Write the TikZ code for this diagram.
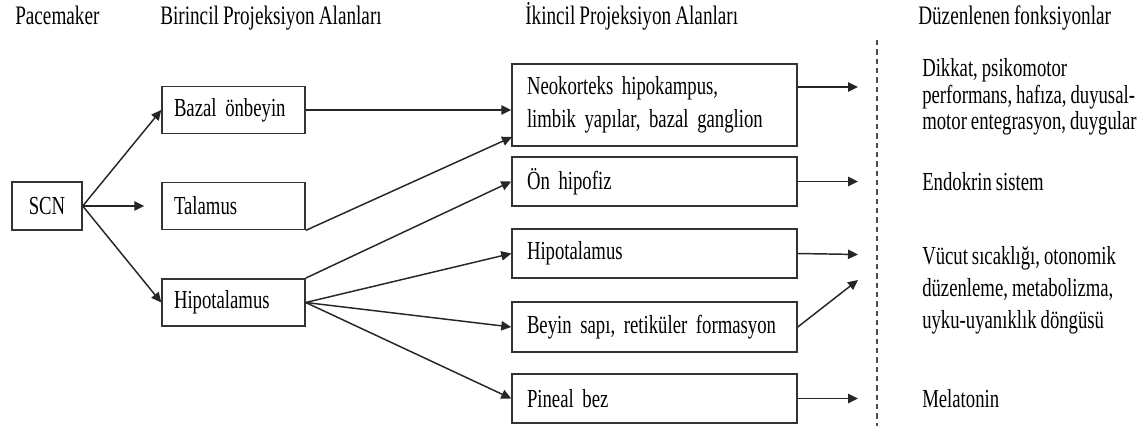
\documentclass[tikz,border=0pt]{standalone}
\usepackage{fontspec}
\setmainfont[FakeStretch=0.72,WordSpace=0.85]{Liberation Serif}
\usetikzlibrary{arrows.meta,calc}
\newcommand{\tightsp}{\spaceskip=0.2em\relax\xspaceskip=0.3em\relax}
\begin{document}
\begin{tikzpicture}[x=0.75pt,y=-0.75pt,
  box/.style={draw=black!80, line width=1.1pt, rectangle, inner ysep=0pt, font=\fontsize{19.5}{24.75}\selectfont\tightsp, align=left},
  lbox/.style={box, inner xsep=9pt, text width=89.25pt, minimum height=35.5pt},
  rbox/.style={box, inner xsep=11.25pt, text width=191.25pt, minimum height=36.75pt},
  arr/.style={draw=black!85, line width=1.1pt, -{Triangle[length=7.5pt,width=7pt]}},
  hdr/.style={anchor=base west, inner sep=0pt, font=\fontsize{20}{24}\selectfont},
  fn/.style={anchor=west, inner sep=0pt, align=left}]
\useasboundingbox (0,0) rectangle (1146,428);

% headers
\node[hdr] (h1) at (15,25) {Pacemaker};
\node[hdr] (h2) at (160,25) {Birincil Projeksiyon Alanları};
\node[hdr] (h3) at (525,25) {İkincil Projeksiyon Alanları};
\node[hdr] (h4) at (918,25) {Düzenlenen fonksiyonlar};

% boxes
\node[box, align=center, minimum width=52.5pt, minimum height=36pt, inner xsep=0pt] (scn) at (47,206) {SCN};
\node[lbox] (bazal) at (233.5,110) {\mbox{Bazal önbeyin}};
\node[lbox] (talamus) at (233.5,206) {\mbox{Talamus}};
\node[lbox] (hipo1) at (233.5,302.5) {\mbox{Hipotalamus}};

\node[rbox, minimum height=61.5pt] (neo) at (654.5,105) {\mbox{Neokorteks hipokampus,}\\\mbox{limbik yapılar, bazal ganglion}};
\node[rbox] (onhip) at (654.5,181.5) {\mbox{Ön hipofiz}};
\node[rbox] (hipo2) at (654.5,253.5) {\mbox{Hipotalamus}};
\node[rbox, minimum height=37.5pt] (beyin) at (654.5,327) {\mbox{Beyin sapı, retiküler formasyon}};
\node[rbox] (pineal) at (654.5,398.5) {\mbox{Pineal bez}};

% separator
\draw[black!70, line width=1pt, dash pattern=on 4pt off 3pt] (877,40) -- (877,426);

% function texts
\node[fn, font=\fontsize{19.5}{20}\selectfont] (t1) at (922,97) {Dikkat, psikomotor\\performans, hafıza, duyusal-\\motor entegrasyon, duygular};
\node[fn, anchor=base west, font=\fontsize{19.5}{20}\selectfont] (t2) at (922,190) {Endokrin sistem};
\node[fn, font=\fontsize{19.5}{24}\selectfont] (t3) at (922,290) {Vücut sıcaklığı, otonomik\\düzenleme, metabolizma,\\uyku-uyanıklık döngüsü};
\node[fn, anchor=base west, font=\fontsize{19.5}{20}\selectfont] (t4) at (922,407) {Melatonin};

% free ends
\coordinate (f1) at (858,87);
\coordinate (f2) at (858,181.5);
\coordinate (f3) at (858,254.5);
\coordinate (f4) at (858,280);
\coordinate (f5) at (858,398.5);
\coordinate (n1) at (797,87);
\coordinate (n2) at (512,137);

% connectors
\draw[arr] (scn.east) -- (bazal.west);
\draw[arr, shorten >=12.75pt] (scn.east) -- (talamus.west);
\draw[arr] (scn.east) -- (hipo1.west);
\draw[arr] (bazal.east) -- (bazal.east -| neo.west);
\draw[arr] (talamus.south east) -- (n2);
\draw[arr] (hipo1.north east) -- (onhip.west);
\draw[arr] (hipo1.east) -- (hipo2.west);
\draw[arr] (hipo1.east) -- (beyin.west);
\draw[arr] (hipo1.east) -- (pineal.west);

\draw[arr] (n1) -- (f1);
\draw[arr] (onhip.east) -- (f2);
\draw[arr] (hipo2.east) -- (f3);
\draw[arr] (beyin.east) -- (f4);
\draw[arr] (pineal.east) -- (f5);
\end{tikzpicture}
\end{document}
